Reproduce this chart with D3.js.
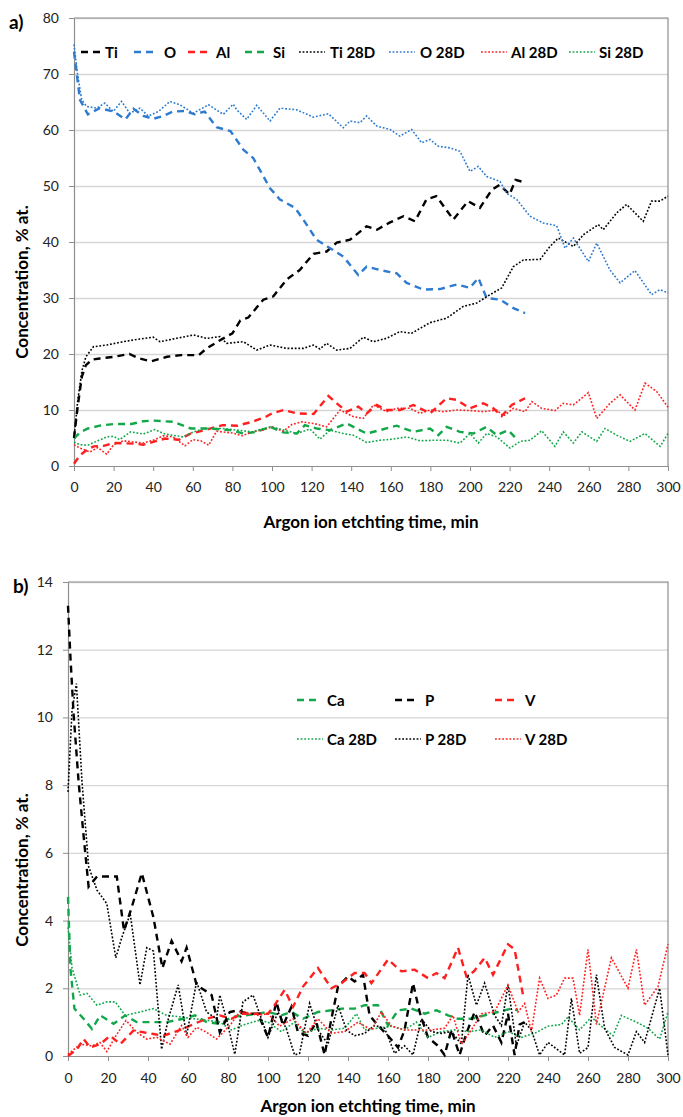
<!DOCTYPE html>
<meta charset="utf-8">
<script src="https://d3js.org/d3.v7.min.js"></script>
<style>
  body { margin: 0; background: #fff; }
  text { font-family: Lato, "Open Sans", sans-serif; }
</style>
<div id="chart"></div>
<script>

// ---- panel a) : [time, concentration] ----
var tiDash = [[0,5],[2,11],[4,16],[6,18],[9,19],[13,19.2],[20,19.5],[28,20],[33,19.2],[39,18.7],[47,19.5],[54,19.8],[63,19.8],[67,21],[74,22.5],[80,23.7],[84,26],[88,26.5],[95.6,29.7],[100.7,30.3],[107.4,33.3],[114,35],[121,37.9],[127.6,38.3],[132.7,39.9],[139.4,40.4],[147.8,42.8],[153,42.2],[159.6,43.5],[166.4,44.6],[172.2,43.7],[178,47.6],[183,48.2],[191.6,44],[199,47.3],[205,46.1],[211,49.3],[215,50.2],[220,48.5],[223,51.1],[227,50.7]];
var oDash = [[0,74],[3,65.4],[7,62.8],[13,63.9],[20,63.3],[26,61.9],[30,63.8],[35,62.5],[40,62],[45,62.5],[50,63.3],[56,63.4],[61,62.8],[66,63.3],[72,60.5],[79,59.8],[85.5,56.5],[90.5,55],[99,49.6],[104,47.6],[111.6,46.1],[115.8,44],[122.5,40.4],[129.3,38.9],[136,37.4],[143.6,34.1],[147.8,35.6],[154.5,35],[163,34.4],[168,32.7],[176.4,31.5],[184.8,31.6],[193.3,32.4],[200,31.8],[204.2,33.6],[208.4,30],[215.2,29.7],[221.9,28.2],[227.8,27.3]];
var alDash = [[0,0.4],[3,1.9],[7,3],[10,3.5],[15,3.6],[20,4.1],[30,4],[35,3.8],[40,4.3],[46,4.9],[53,4.7],[59,5.8],[66,6.4],[75,7.3],[82.5,7.2],[90,7.9],[97,8.8],[100,9.4],[106,10],[112.5,9.4],[121,9.3],[128.5,12.5],[132.7,11.2],[137.7,9.7],[143.6,10.6],[147.8,9.4],[152.9,10.9],[157.9,10],[164.6,10],[171.4,10.9],[179.8,9.4],[188.2,12.1],[193.3,11.8],[200,10.3],[206.7,11.2],[211.8,10.3],[216,8.9],[221.1,10.9],[227.8,12.1]];
var siDash = [[0,4.9],[3,6],[7,6.7],[13,7.2],[20,7.5],[29,7.5],[35,8],[40,8.1],[50,7.9],[59,6.7],[68,6.7],[79,6.4],[85.5,5.8],[92.3,6.1],[99,7],[105.7,6],[112.5,5.8],[116.6,7.3],[122.5,6.7],[129.3,6.4],[137.7,7.6],[147.8,5.8],[154.5,6.4],[163,7.2],[171.4,6.1],[179.8,6.7],[184,5.5],[188.2,7],[194.9,6.1],[201.7,5.8],[208.4,7],[213.5,5.5],[219.3,6.4],[223.6,4.8]];
var ti28 = [[0,5],[2,12],[4,17],[6,19.5],[9.8,21.3],[16.5,21.6],[24.9,22.2],[31.6,22.6],[40,23],[43.4,22.2],[51.9,22.8],[60.3,23.4],[67,22.8],[73.7,23.1],[77.1,21.9],[85.5,22.2],[92.3,20.7],[99,21.6],[107.4,21],[115.8,21],[120.9,21.6],[124.2,20.9],[127.6,21.9],[132.7,20.7],[139.4,21],[146.1,23],[151.2,22.2],[157.9,22.8],[164.6,24],[170.5,23.7],[179.8,25.6],[188.2,26.4],[196.6,28.5],[203.4,29.1],[210.1,30.6],[216,31.8],[221.9,35.6],[227,36.8],[235.4,36.9],[240.4,39.2],[244.6,40.7],[252.2,39.2],[257.3,41.3],[264.8,43.1],[267.3,42.2],[274.1,45.2],[279.1,46.7],[287.5,43.7],[291.7,47.3],[296,47.3],[300,48.2]];
var o28 = [[0,75.3],[1.7,70.2],[3.9,65.4],[6.4,64.2],[11.4,63.9],[15.6,64.8],[19.8,63.3],[24,65.1],[28.2,63],[33.3,63.9],[37.5,62.5],[42.6,63.3],[48.5,65.1],[53.5,64.5],[60.3,63],[67.9,64.5],[75.4,62.8],[80.4,64.6],[82.2,63.6],[87.2,61.9],[92.3,64.4],[99,61.6],[104,63.9],[112.5,63.6],[120.9,62.3],[128.5,62.9],[136,60.4],[139.4,61.6],[144.4,61.3],[147.8,62.5],[152.9,60.7],[159.6,60.1],[164.6,58.9],[170.5,60.1],[175.6,57.7],[179.8,58.3],[184,57.1],[189.9,56.8],[194.9,56.2],[200,52.6],[204.2,53.5],[208.4,51.7],[215.2,50.8],[218.5,48.7],[223.6,47.6],[230.3,44.6],[237,43.4],[243.8,42.9],[248,38.9],[252.2,40.7],[259.8,36.5],[264,39.8],[270.7,35],[275.8,32.7],[283.3,34.9],[291.7,30.6],[296,31.5],[300,30.9]];
var al28 = [[0,3.8],[3,3.2],[8,2.5],[12,3.3],[16.5,2.1],[20,3.8],[25,4.5],[30,4.3],[35,4.1],[40,4.6],[45,5.4],[50,5.2],[56,3.6],[60,4.7],[64,4.5],[68,3.7],[72,6.2],[80,5.9],[85,5.4],[90,6.1],[95,6.4],[100,7],[105.7,6.2],[110,7.4],[115,7.9],[120.9,7.6],[127.6,7],[134.4,10],[141.1,8.8],[146.1,8.5],[151.2,10.9],[157.9,9.7],[163,10.3],[169.7,10.3],[174.7,9.4],[179.8,10],[186.5,9.7],[193.3,10],[200,9.9],[206.7,9.7],[213.5,10],[216.8,8.9],[221.9,10.3],[227.8,9.7],[231.2,11.5],[236.2,10.3],[242.9,9.9],[247.1,11.2],[252.2,10.9],[259.8,13.1],[264,8.5],[270.7,11.2],[275.8,12.7],[283.3,10],[288.4,14.8],[294.3,13.3],[300,10.5]];
var si28 = [[0,4.3],[3,3.8],[7,3.7],[12,4.5],[16.5,5.2],[20,5.3],[23,4.7],[28.6,6.1],[35,5.7],[40.7,6.5],[46,5.7],[55,5.2],[60.5,6.1],[66,6.7],[75,6.7],[82.5,6.4],[90,6.1],[99,7],[104,6.6],[112.5,5.8],[119.2,6.6],[124.2,4.8],[129.3,6.4],[136,5.8],[141.1,5.5],[147.8,4.2],[154.5,4.6],[161.3,4.8],[168,5.2],[174.7,4.5],[181.5,4.6],[188.2,4.6],[194.9,4.1],[200,5.8],[204.2,4.1],[208.4,5.8],[213.5,5.2],[220.2,3.2],[225.3,4.4],[230.3,4.6],[236.2,6.3],[242.9,3.5],[247.1,6.1],[252.2,4.1],[256.5,6.1],[264,4.4],[268.2,6.7],[274.1,5.5],[280.8,4.4],[288.4,5.8],[296,3.5],[300,5.8]];

// ---- panel b) ----
var caDash = [[0,4.7],[1.2,2.6],[3.2,1.4],[7.8,1.1],[12,0.8],[16.1,1.2],[22.8,0.95],[28.6,1.2],[34.4,1],[42.7,1],[49.3,1],[57.6,1.1],[63.5,1.2],[69.3,1],[75.9,0.95],[82,1.15],[88.3,1.2],[95,1.25],[100,1.3],[106.7,1.2],[111.7,1.3],[117.5,1.1],[125,1.3],[131.7,1.35],[136.7,1.4],[143.3,1.4],[148.3,1.5],[155,1.5],[160,0.9],[165,1.35],[171.7,1.4],[178.3,1.25],[184.2,1.35],[190,1.2],[195,1.1],[201.7,1.1],[208.3,1.2],[215,1.3],[221.7,1.4],[225,1.35]];
var pDash = [[0,13.3],[1.2,11.8],[2.8,10.1],[5.3,8.1],[7.8,6.5],[10.3,5],[14.5,5.3],[19.4,5.3],[24.4,5.3],[28,3.7],[31.9,4.4],[36.9,5.4],[42.7,4.1],[47.2,2.6],[51.8,3.4],[56.8,2.8],[59.3,3.2],[64.3,2.1],[71.8,1.8],[75.9,0.7],[80.9,1.3],[85,1.35],[90,1.25],[95,1.25],[100,0.55],[104.2,1.6],[107.5,0.9],[111.7,1.45],[115,0.7],[120,0.6],[124.2,1],[128.3,0.03],[131.7,1.1],[135,2.05],[140,2.35],[143.3,2.2],[147.5,2.4],[150.8,1.2],[155,0.9],[160,0.6],[165,0.25],[168.3,0.77],[172.5,2.15],[175.8,1.3],[180,0.55],[185,0.3],[188.3,0.03],[191.7,0.77],[195.8,0.03],[199.2,0.67],[203.3,1.3],[208.3,0.6],[212.5,0.9],[216.7,0.4],[220,1.25],[223.3,0.03],[225.8,0.93],[228.3,1.0]];
var vDash = [[0,0],[4.5,0.2],[7.8,0.5],[11.1,0.25],[16.1,0.35],[21.1,0.6],[26.1,0.35],[32.7,0.75],[37.7,0.7],[42.7,0.65],[47.7,0.6],[52.7,0.7],[57.6,0.8],[63,0.95],[69.3,1.1],[75.9,1.2],[81.7,1.1],[86.7,1.25],[93.3,1.25],[100,1.25],[103.3,1.5],[108.3,1.95],[112.5,1.45],[117.5,2.05],[125,2.6],[131.7,2],[136.7,2.15],[143.3,2.45],[148.3,2.45],[151.7,2.15],[160,2.85],[166.7,2.5],[173.3,2.55],[180,2.3],[184.2,2.45],[188.3,2.3],[195,3.2],[199.2,2.35],[203,2.5],[208.3,2.9],[212.5,2.4],[220,3.3],[223.3,3.15],[227.5,1.8]];
var ca28 = [[0,3.8],[2,2.6],[6.1,1.8],[9.5,1.85],[14.5,1.5],[19.4,1.6],[23.6,1.6],[28.6,1.2],[36,1.3],[42.7,1.4],[49.3,1.2],[56.8,1.15],[63,1.1],[70,1.05],[76,1],[81.7,0.77],[88.3,0.93],[95,1.05],[100,1],[106.7,0.72],[113.3,1],[118.3,0.67],[125,0.82],[131.7,0.77],[138.3,0.82],[144.2,1.25],[148.3,0.77],[155,0.82],[161.7,0.88],[168.3,0.77],[174.2,1],[180,0.55],[186.7,0.72],[193.3,0.77],[200,0.72],[206.7,0.77],[213.3,0.55],[220,0.72],[226.7,0.55],[233.3,0.67],[240,0.88],[246.7,0.93],[250,1.15],[255.8,0.77],[261.7,1.15],[266.7,0.88],[272.5,0.6],[276.7,1.2],[284.2,1],[290,0.82],[295.8,0.5],[300,1.3]];
var p28 = [[0,7.8],[2,10.2],[4.2,11],[7,8.1],[10.3,5.6],[14.5,4.9],[19.4,4.5],[23.9,2.9],[26.9,3.5],[31.1,4.2],[36,2.1],[39.4,3.2],[42.7,3.1],[46.8,0.2],[50.2,1.1],[55.1,2.1],[59.3,0.6],[64.3,2.2],[69.3,1.3],[74.3,1.1],[75.9,1.8],[79.2,1.1],[83.4,0.05],[87.5,1.6],[92.5,1.8],[100,0.55],[105,1.3],[109.2,0.8],[113.3,0.03],[115.8,0.08],[120.8,1.55],[125,0.77],[130,0.35],[135,1.5],[139.2,0.77],[143.3,0.6],[148.3,0.67],[153.3,0.9],[158.3,0.82],[163.3,0.08],[168.3,0.3],[172.5,0.03],[176.7,1.1],[181.7,0.72],[186.7,0.67],[191.7,0.72],[196.7,0.35],[200,2.4],[204.2,1.5],[208.3,2.15],[213.3,1.2],[216.7,0.9],[220,2.1],[224.2,0.3],[228.3,1],[231.7,0.77],[235.8,0.03],[240,0.4],[248.3,0.03],[251.7,1.7],[255.8,0.08],[260,0.25],[264.2,2.4],[268.3,0.82],[273.3,0.25],[280,0.03],[284.2,0.72],[288.3,0.4],[295.8,2],[300,0.03]];
var v28 = [[0,0.05],[6.1,0.35],[12,0.3],[16,0.4],[19.4,0.13],[24,0.6],[29,1.05],[34.4,0.7],[39.4,0.5],[44.4,0.55],[51,0.35],[56.8,0.9],[60,0.55],[64.3,0.85],[69.3,0.7],[74.3,0.5],[80.9,0.9],[85.9,1.3],[88.3,1.3],[95,1.2],[100,1.25],[105.8,0.88],[112.5,1.1],[119.2,0.67],[125,1.1],[131.7,0.67],[138.3,0.72],[145,1],[151.7,0.77],[156.7,1.3],[161.7,0.88],[168.3,0.77],[175,0.77],[181.7,0.77],[188.3,0.82],[192.5,1.2],[196.7,0.35],[201.7,0.77],[206.7,1.25],[213.3,1.3],[220,2.1],[225,1.3],[228.3,1.55],[231.7,0.72],[235.8,2.3],[240,1.7],[244.2,1.8],[248.3,2.3],[252.5,2.3],[255.8,1.2],[260,3.15],[264.2,0.93],[271.7,2.9],[280,2],[284.2,3.15],[288.3,1.5],[295,2.05],[300,3.3]];

var xTicks = d3.range(0, 301, 20);
var ticksA = d3.range(0, 81, 10);
var ticksB = d3.range(0, 15, 2);

var BLACK = "#000000", BLUE = "#2e7bcf", RED = "#ff1f1f", GREEN = "#12a84a";
var DASH = "7,5", DOT = "1.8,1.8";

var svg = d3.select("#chart").append("svg")
    .attr("width", 683)
    .attr("height", 1117);

function drawPanel(p) {
  var w = p.right - p.left, h = p.bottom - p.top;
  var g = svg.append("g").attr("transform", "translate(" + p.left + "," + p.top + ")");

  var x = d3.scaleLinear().domain([0, 300]).range([0, w]);
  var y = d3.scaleLinear().domain([0, p.yTicks[p.yTicks.length - 1]]).range([h, 0]);

  // gridlines
  g.append("g")
    .call(d3.axisLeft(y).tickValues(p.yTicks.slice(1)).tickSize(-w).tickFormat(""))
    .call(function(s) { s.select(".domain").remove(); })
    .selectAll("line").attr("stroke", "#d6d6d6").attr("stroke-width", 1.3);

  // plot border top + right
  g.append("path")
    .attr("d", "M0,0H" + w + "V" + h)
    .attr("fill", "none").attr("stroke", "#8e8e8e").attr("stroke-width", 1.2);

  // x axis
  var xa = g.append("g")
    .attr("transform", "translate(0," + h + ")")
    .call(d3.axisBottom(x).tickValues(xTicks).tickSize(5).tickSizeOuter(0).tickPadding(p.xPad));
  // y axis
  var ya = g.append("g")
    .call(d3.axisLeft(y).tickValues(p.yTicks).tickSize(5).tickSizeOuter(0).tickPadding(10));
  [xa, ya].forEach(function(a) {
    a.select(".domain").attr("stroke", "#8e8e8e").attr("stroke-width", 1.2);
    a.selectAll(".tick line").attr("stroke", "#8e8e8e");
    a.selectAll(".tick text").attr("fill", "#222").style("font-size", "14px")
      .style("font-family", "Lato, 'Open Sans', sans-serif");
  });

  var line = d3.line()
    .x(function(d) { return x(d[0]); })
    .y(function(d) { return y(d[1]); });

  p.series.forEach(function(s) {
    g.append("path")
      .datum(s.data)
      .attr("fill", "none")
      .attr("stroke", s.color)
      .attr("stroke-width", s.dash ? 2.4 : 1.6)
      .attr("stroke-dasharray", s.dash ? DASH : DOT)
      .attr("d", line);
  });

  // legend
  p.series.forEach(function(s) {
    var len = s.dash ? 20 : 26;
    svg.append("line")
      .attr("x1", s.lx).attr("x2", s.lx + len)
      .attr("y1", s.ly).attr("y2", s.ly)
      .attr("stroke", s.color)
      .attr("stroke-width", s.dash ? 2.4 : 1.6)
      .attr("stroke-dasharray", s.dash ? DASH : DOT);
    svg.append("text")
      .attr("x", s.tx).attr("y", s.ly + 5.5)
      .text(s.name)
      .style("font-size", "15px").style("font-weight", "bold");
  });

  // axis titles
  svg.append("text")
    .attr("x", (p.left + p.right) / 2).attr("y", p.xTitleY)
    .attr("text-anchor", "middle")
    .text("Argon ion etchting time, min")
    .style("font-size", "17px").style("font-weight", "bold");
  svg.append("text")
    .attr("transform", "translate(28," + p.yTitleY + ") rotate(-90)")
    .attr("text-anchor", "middle")
    .text("Concentration, % at.")
    .style("font-size", "17px").style("font-weight", "bold");
  svg.append("text")
    .attr("x", p.labelX).attr("y", p.labelY)
    .text(p.label)
    .style("font-size", "19px").style("font-weight", "bold");
}

drawPanel({
  left: 74, top: 18, right: 668, bottom: 466,
  yTicks: ticksA, xPad: 11, xTitleY: 528, yTitleY: 282,
  label: "a)", labelX: 9, labelY: 29,
  series: [
    {name: "Ti", data: tiDash, color: BLACK, dash: true, lx: 81, tx: 105, ly: 52},
    {name: "O", data: oDash, color: BLUE, dash: true, lx: 134, tx: 164, ly: 52},
    {name: "Al", data: alDash, color: RED, dash: true, lx: 188, tx: 216, ly: 52},
    {name: "Si", data: siDash, color: GREEN, dash: true, lx: 245, tx: 273, ly: 52},
    {name: "Ti 28D", data: ti28, color: BLACK, dash: false, lx: 299, tx: 330, ly: 52},
    {name: "O 28D", data: o28, color: BLUE, dash: false, lx: 389, tx: 420, ly: 52},
    {name: "Al 28D", data: al28, color: RED, dash: false, lx: 481, tx: 511, ly: 52},
    {name: "Si 28D", data: si28, color: GREEN, dash: false, lx: 569, tx: 599, ly: 52}
  ]
});

drawPanel({
  left: 68, top: 582, right: 668, bottom: 1056,
  yTicks: ticksB, xPad: 12, xTitleY: 1112, yTitleY: 870,
  label: "b)", labelX: 13, labelY: 593,
  series: [
    {name: "Ca", data: caDash, color: GREEN, dash: true, lx: 297, tx: 327, ly: 700},
    {name: "P", data: pDash, color: BLACK, dash: true, lx: 395, tx: 425, ly: 700},
    {name: "V", data: vDash, color: RED, dash: true, lx: 495, tx: 525, ly: 700},
    {name: "Ca 28D", data: ca28, color: GREEN, dash: false, lx: 297, tx: 327, ly: 739},
    {name: "P 28D", data: p28, color: BLACK, dash: false, lx: 395, tx: 425, ly: 739},
    {name: "V 28D", data: v28, color: RED, dash: false, lx: 495, tx: 525, ly: 739}
  ]
});

</script>
